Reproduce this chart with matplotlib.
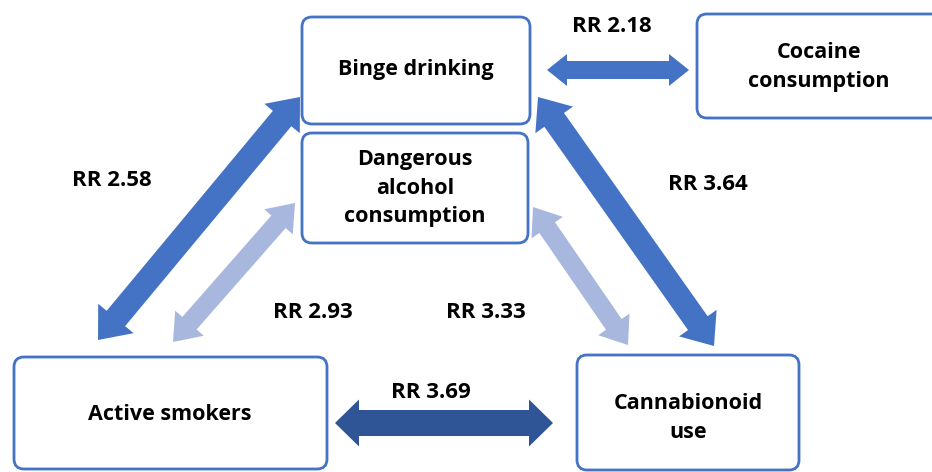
import matplotlib
matplotlib.use("Agg")
import matplotlib.pyplot as plt
from matplotlib.patches import FancyBboxPatch, Polygon
import numpy as np

# ---- data ----
nodes = ["Binge drinking", "Dangerous\nalcohol\nconsumption", "Cocaine\nconsumption",
         "Active smokers", "Cannabionoid\nuse"]
link_from = ["Binge drinking", "Binge drinking", "Dangerous\nalcohol\nconsumption",
             "Binge drinking", "Dangerous\nalcohol\nconsumption", "Active smokers"]
link_to = ["Cocaine\nconsumption", "Active smokers", "Active smokers",
           "Cannabionoid\nuse", "Cannabionoid\nuse", "Cannabionoid\nuse"]
rr_values = [2.18, 2.58, 2.93, 3.64, 3.33, 3.69]

# ---- layout (pixel coordinates, y downwards) ----
box_rect = {  # x0, y0, x1, y1
    nodes[0]: (302, 17, 530, 124),
    nodes[1]: (302, 133, 528, 243),
    nodes[2]: (697, 14, 942, 118),
    nodes[3]: (14, 357, 327, 469),
    nodes[4]: (577, 355, 799, 470),
}
text_pos = {
    nodes[0]: (416, 70),
    nodes[1]: (415, 188),
    nodes[2]: (819, 67),
    nodes[3]: (170, 414),
    nodes[4]: (688, 418),
}
arrow_ends = [((547, 70), (689, 70)),
              ((98, 340), (300, 97)),
              ((173, 342), (295, 203)),
              ((538, 97), (714, 346)),
              ((533, 207), (628, 345)),
              ((335, 423), (553, 423))]
arrow_style = [  # shaft width, head width, head length, colour
    (18, 32, 20, "#4472C4"),
    (24, 46, 28, "#4472C4"),
    (19, 38, 25, "#A8B7DD"),
    (24, 46, 28, "#4472C4"),
    (19, 38, 25, "#A8B7DD"),
    (26, 47, 24, "#2F5597"),
]
label_pos = [(612, 27), (112, 180), (313, 313), (708, 185), (486, 313), (431, 393)]

FONT = "Open Sans"
FS_BOX = 15.5
FS_RR = 16


def double_arrow(p0, p1, w, hw, hl):
    p0 = np.asarray(p0, float); p1 = np.asarray(p1, float)
    u = (p1 - p0) / np.hypot(*(p1 - p0))
    n = np.array([-u[1], u[0]])
    b0 = p0 + u * hl
    b1 = p1 - u * hl
    return np.array([p0, b0 + n * hw / 2, b0 + n * w / 2, b1 + n * w / 2, b1 + n * hw / 2,
                     p1, b1 - n * hw / 2, b1 - n * w / 2, b0 - n * w / 2, b0 - n * hw / 2])


fig = plt.figure(figsize=(9.32, 4.72), dpi=100)
ax = fig.add_axes([0, 0, 1, 1])
ax.set_xlim(0, 932)
ax.set_ylim(472, 0)
ax.axis("off")

for name in nodes:
    x0, y0, x1, y1 = box_rect[name]
    ax.add_patch(FancyBboxPatch((x0, y0), x1 - x0, y1 - y0,
                                boxstyle="round,pad=0,rounding_size=10",
                                fc="white", ec="#4472C4", lw=2, zorder=2))
    tx, ty = text_pos[name]
    ax.text(tx, ty, name, ha="center", va="center", fontsize=FS_BOX,
            fontweight="bold", family=FONT, linespacing=1.45, color="#000000", zorder=3)

for (p0, p1), (w, hw, hl, col) in zip(arrow_ends, arrow_style):
    ax.add_patch(Polygon(double_arrow(p0, p1, w, hw, hl), closed=True,
                         fc=col, ec="none", zorder=1))

for v, (lx, ly) in zip(rr_values, label_pos):
    ax.text(lx, ly, f"RR {v:.2f}", ha="center", va="center", fontsize=FS_RR,
            fontweight="bold", family=FONT, color="#000000", zorder=3)

fig.savefig("out.png", dpi=100)
